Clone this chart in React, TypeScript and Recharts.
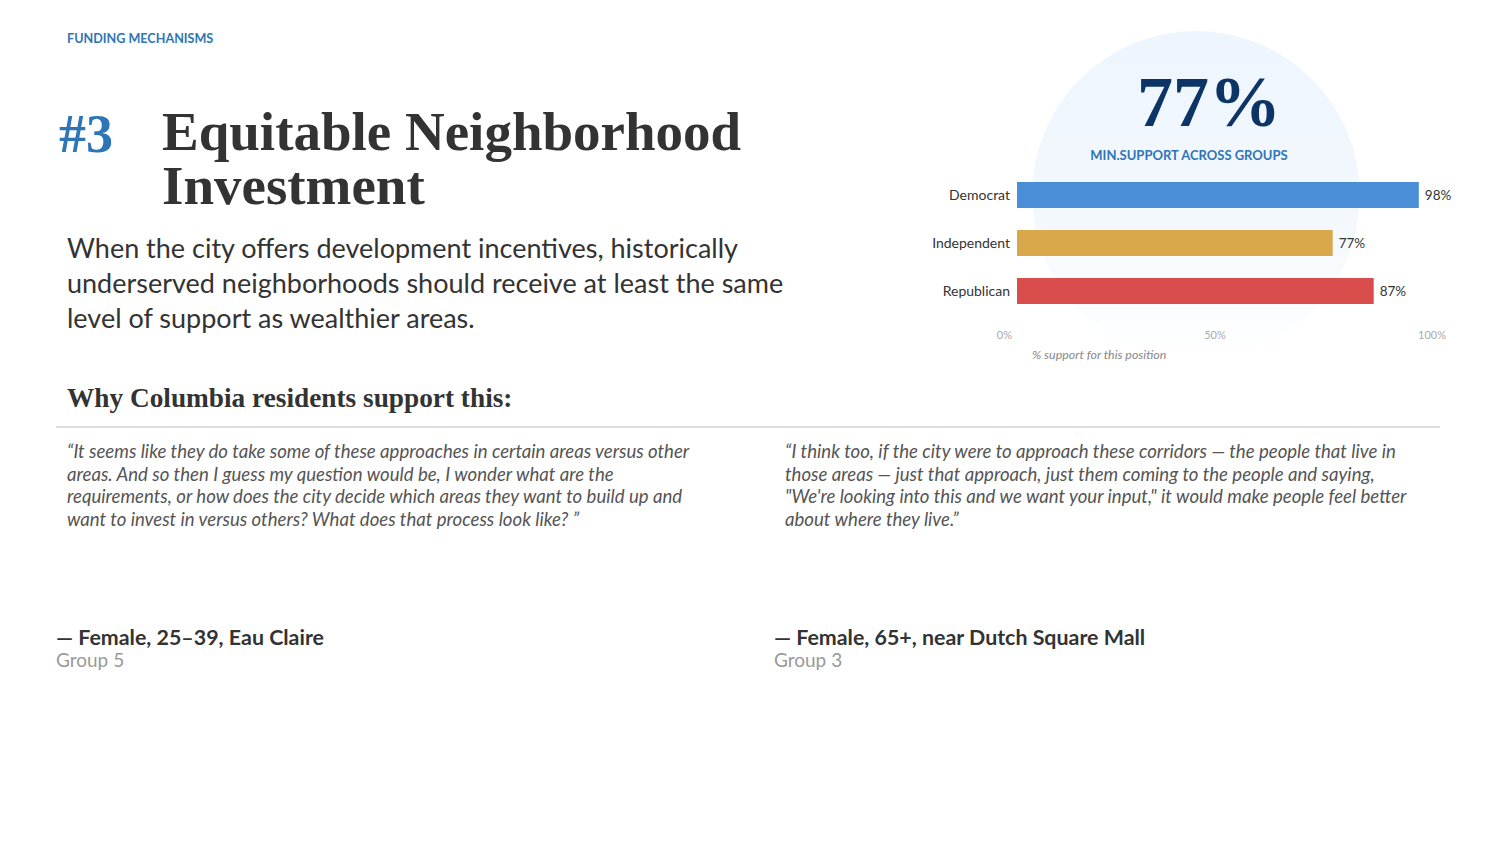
import React from "react";
import { BarChart, Bar, XAxis, YAxis, Cell, LabelList } from "recharts";

const groups = ["Democrat", "Independent", "Republican"];
const support = [98, 77, 87];
const barColors = ["#4a8ed8", "#d9a84a", "#d94d4d"];
const xTicks = [0, 50, 100];

const eyebrow = "FUNDING MECHANISMS";
const rank = "#3";
const titleLines = ["Equitable Neighborhood", "Investment"];
const statementLines = [
  "When the city offers development incentives, historically",
  "underserved neighborhoods should receive at least the same",
  "level of support as wealthier areas.",
];
const headline = "77%";
const headlineCaption = "MIN.SUPPORT ACROSS GROUPS";
const axisCaption = "% support for this position";
const whyHeading = "Why Columbia residents support this:";
const quoteLines1 = [
  "\u201cIt seems like they do take some of these approaches in certain areas versus other",
  "areas. And so then I guess my question would be, I wonder what are the",
  "requirements, or how does the city decide which areas they want to build up and",
  "want to invest in versus others? What does that process look like? \u201d",
];
const quoteLines2 = [
  "\u201cI think too, if the city were to approach these corridors \u2014 the people that live in",
  "those areas \u2014 just that approach, just them coming to the people and saying,",
  "\"We're looking into this and we want your input,\" it would make people feel better",
  "about where they live.\u201d",
];
const quotes = [
  { lines: quoteLines1, who: "\u2014 Female, 25\u201339, Eau Claire", group: "Group 5" },
  { lines: quoteLines2, who: "\u2014 Female, 65+, near Dutch Square Mall", group: "Group 3" },
];

const data = groups.map((g, i) => ({ group: g, value: support[i], color: barColors[i] }));

const SANS = "Lato, 'Open Sans', 'Noto Sans', sans-serif";
const SERIF = "Georgia, 'Liberation Serif', 'DejaVu Serif', serif";

const XTick = (props: any) => {
  const { x, y, payload } = props;
  const v = payload.value;
  const anchor = v === 0 ? "end" : v === 100 ? "start" : "middle";
  const dx = v === 0 ? -5 : v === 100 ? -9 : -7;
  return (
    <text x={x + dx} y={y + 16} textAnchor={anchor} fontSize={11} fill="#aaaaaa" fontFamily={SANS}>
      {v}%
    </text>
  );
};

const YTick = (props: any) => {
  const { x, y, payload } = props;
  return (
    <text x={x + 1} y={y} dy={5} textAnchor="end" fontSize={14} fill="#333333" fontFamily={SANS}>
      {payload.value}
    </text>
  );
};

export default function App() {
  return (
    <div
      style={{
        position: "absolute",
        left: 0,
        top: 0,
        width: 1500,
        height: 844,
        background: "#ffffff",
        overflow: "hidden",
        fontFamily: SANS,
      }}
    >
      {/* circle */}
      <div
        style={{
          position: "absolute",
          left: 1032,
          top: 31,
          width: 328,
          height: 328,
          borderRadius: "50%",
          background: "linear-gradient(to bottom, #eef5fd 0%, #f3f8fd 55%, #ffffff 100%)",
        }}
      />
      <div style={{ position: "absolute", left: 67, top: 31, fontSize: 12.6, fontWeight: 700, color: "#2e75b6" }}>
        {eyebrow}
      </div>
      <div style={{ position: "absolute", left: 59, top: 103, fontSize: 54, fontWeight: 700, color: "#2e75b6", fontFamily: SERIF }}>
        {rank}
      </div>
      <div
        style={{
          position: "absolute",
          left: 162,
          top: 105,
          fontSize: 55,
          lineHeight: "54px",
          fontWeight: 700,
          color: "#333333",
          fontFamily: SERIF,
          whiteSpace: "pre",
        }}
      >
        {titleLines.join("\n")}
      </div>
      {statementLines.map((l, i) => (
        <div
          key={l}
          style={{
            position: "absolute",
            left: 67,
            top: 230 + i * 35,
            fontSize: 27,
            lineHeight: "35px",
            color: "#333333",
            whiteSpace: "nowrap",
          }}
        >
          {l}
        </div>
      ))}
      <div
        style={{
          position: "absolute",
          left: 67,
          top: 383,
          fontSize: 27.3,
          fontWeight: 700,
          color: "#333333",
          fontFamily: SERIF,
          whiteSpace: "nowrap",
        }}
      >
        {whyHeading}
      </div>
      <div style={{ position: "absolute", left: 56, top: 426, width: 1384, height: 2, background: "#dddddd" }} />
      {quotes.map((q, i) => (
        <div key={i} style={{ position: "absolute", left: i === 0 ? 56 : 774, top: 440, width: 700 }}>
          {q.lines.map((l, j) => (
            <div
              key={j}
              style={{
                paddingLeft: 11,
                whiteSpace: "nowrap",
                fontSize: 18.6,
                lineHeight: "22.5px",
                height: 22.5,
                fontStyle: "italic",
                color: "#555555",
              }}
            >
              {l}
            </div>
          ))}
          <div style={{ position: "absolute", top: 184, left: 0, whiteSpace: "nowrap", fontSize: 21.4, fontWeight: 700, color: "#333333" }}>
            {q.who}
          </div>
          <div style={{ position: "absolute", top: 208, left: 0, fontSize: 19, color: "#999999" }}>{q.group}</div>
        </div>
      ))}
      <div
        style={{
          position: "absolute",
          left: 1109,
          top: 62,
          width: 200,
          textAlign: "center",
          fontSize: 72,
          lineHeight: "80px",
          fontWeight: 700,
          color: "#0d3466",
          fontFamily: SERIF,
        }}
      >
        {headline}
      </div>
      <div
        style={{
          position: "absolute",
          left: 1039,
          top: 147,
          width: 300,
          textAlign: "center",
          fontSize: 13,
          fontWeight: 700,
          color: "#2e75b6",
        }}
      >
        {headlineCaption}
      </div>
      <div style={{ position: "absolute", left: 900, top: 170 }}>
        <BarChart
          width={560}
          height={190}
          data={data}
          layout="vertical"
          margin={{ top: 1, right: 33, bottom: 15, left: 0 }}
          barSize={26}
        >
          <XAxis
            type="number"
            domain={[0, 100]}
            ticks={xTicks}
            axisLine={false}
            tickLine={false}
            tick={<XTick />}
            height={30}
            interval={0}
          />
          <YAxis
            type="category"
            dataKey="group"
            width={117}
            axisLine={false}
            tickLine={false}
            tick={<YTick />}
          />
          <Bar dataKey="value" isAnimationActive={false}>
            {data.map((d) => (
              <Cell key={d.group} fill={d.color} />
            ))}
            <LabelList
              dataKey="value"
              position="right"
              offset={6}
              formatter={(v: any) => `${v}%`}
              style={{ fontSize: 13.5, fill: "#333333", fontFamily: SANS }}
            />
          </Bar>
        </BarChart>
      </div>
      <div style={{ position: "absolute", left: 1032, top: 347, fontSize: 12.4, fontStyle: "italic", color: "#888888" }}>
        {axisCaption}
      </div>
    </div>
  );
}
